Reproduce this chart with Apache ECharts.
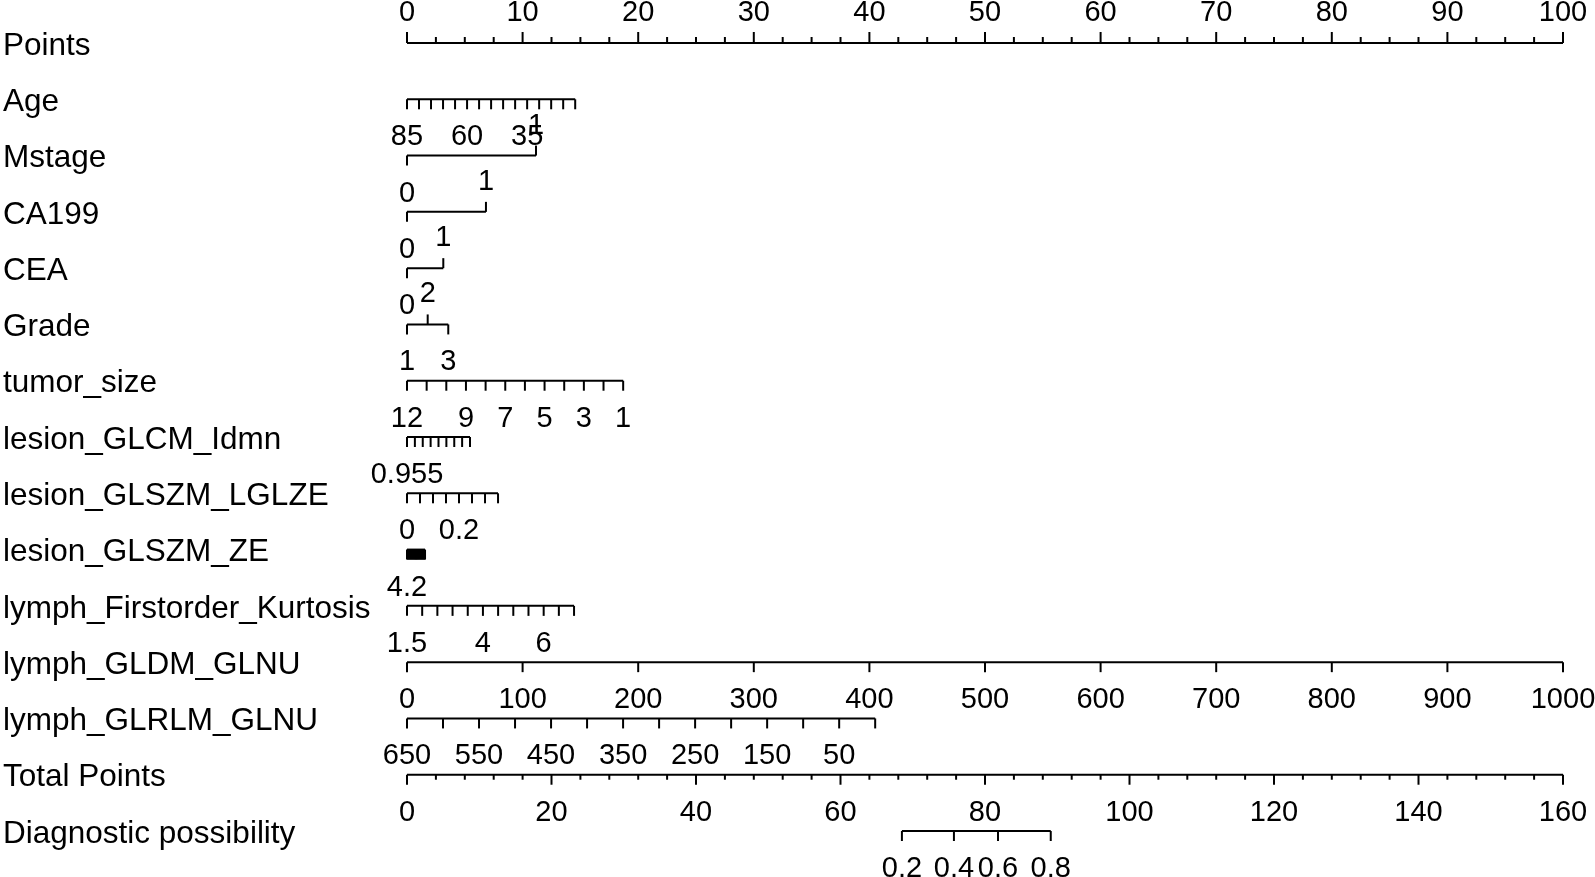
<!DOCTYPE html>
<html>
<head>
<meta charset="utf-8">
<script src="https://cdn.jsdelivr.net/npm/echarts@6/dist/echarts.min.js"></script>
<style>
  html, body { margin: 0; padding: 0; background: #fff; }
  #nomogram { width: 1595px; height: 877px; }
</style>
</head>
<body>
<div id="nomogram"></div>
<script>
  // rows of the nomogram, top to bottom
  const rowNames = ['Points', 'Age', 'Mstage', 'CA199', 'CEA', 'Grade', 'tumor_size',
    'lesion_GLCM_Idmn', 'lesion_GLSZM_LGLZE', 'lesion_GLSZM_ZE', 'lymph_Firstorder_Kurtosis',
    'lymph_GLDM_GLNU', 'lymph_GLRLM_GLNU', 'Total Points', 'Diagnostic possibility'];

  // Points scale
  const pointsMajor = [0, 10, 20, 30, 40, 50, 60, 70, 80, 90, 100];
  const pointsMinor = [2.5, 5, 7.5, 12.5, 15, 17.5, 22.5, 25, 27.5, 32.5, 35, 37.5, 42.5, 45, 47.5,
    52.5, 55, 57.5, 62.5, 65, 67.5, 72.5, 75, 77.5, 82.5, 85, 87.5, 92.5, 95, 97.5];

  // categorical predictors: levels and points
  const mstageLevels = ['0', '1'];
  const mstagePoints = [0, 11.16];
  const ca199Levels = ['0', '1'];
  const ca199Points = [0, 6.83];
  const ceaLevels = ['0', '1'];
  const ceaPoints = [0, 3.14];
  const gradeLevels = ['1', '2', '3'];
  const gradePoints = [0, 1.79, 3.57];
  const gradeSide = [1, -1, 1];

  // continuous predictors: ticks, labelled ticks, [value, points] anchors
  const ageTicks = [85, 80, 75, 70, 65, 60, 55, 50, 45, 40, 35, 30, 25, 20, 15];
  const ageLabels = [85, 60, 35];
  const ageAnchors = [[85, 0], [15, 14.55]];

  const tumorTicks = [12, 11, 10, 9, 8, 7, 6, 5, 4, 3, 2, 1];
  const tumorLabels = [12, 9, 7, 5, 3, 1];
  const tumorAnchors = [[12, 0], [1, 18.7]];

  const idmnTicks = [0.955, 0.96, 0.965, 0.97, 0.975, 0.98, 0.985, 0.99, 0.995];
  const idmnLabels = [0.955];
  const idmnAnchors = [[0.955, 0], [0.995, 5.45]];

  const lglzeTicks = [0, 0.05, 0.1, 0.15, 0.2, 0.25, 0.3, 0.35];
  const lglzeLabels = [0, 0.2];
  const lglzeAnchors = [[0, 0], [0.2, 4.5]];

  const zeTicks = [4.2, 4.3, 4.4, 4.5, 4.6, 4.7, 4.8, 4.9, 5.0, 5.1, 5.2, 5.3, 5.4, 5.5, 5.6, 5.7, 5.8, 5.9, 6.0, 6.1, 6.2];
  const zeLabels = [4.2];
  const zeAnchors = [[4.2, 0], [6.2, 1.56]];

  const kurtTicks = [1.5, 2, 2.5, 3, 3.5, 4, 4.5, 5, 5.5, 6, 6.5, 7];
  const kurtLabels = [1.5, 4, 6];
  const kurtAnchors = [[1.5, 0], [7, 14.45]];

  const gldmTicks = [0, 100, 200, 300, 400, 500, 600, 700, 800, 900, 1000];
  const gldmLabels = [0, 100, 200, 300, 400, 500, 600, 700, 800, 900, 1000];
  const gldmAnchors = [[0, 0], [1000, 100]];

  const glrlmTicks = [650, 600, 550, 500, 450, 400, 350, 300, 250, 200, 150, 100, 50, 0];
  const glrlmLabels = [650, 550, 450, 350, 250, 150, 50];
  const glrlmAnchors = [[650, 0], [0, 40.5]];

  // total points and risk
  const totalMajor = [0, 20, 40, 60, 80, 100, 120, 140, 160];
  const totalMinor = [4, 8, 12, 16, 24, 28, 32, 36, 44, 48, 52, 56, 64, 68, 72, 76, 84, 88, 92, 96,
    104, 108, 112, 116, 124, 128, 132, 136, 144, 148, 152, 156];
  const totalMax = 160;
  const riskLabels = ['0.2', '0.4', '0.6', '0.8'];
  const riskTotal = [68.5, 75.7, 81.8, 89.1];

  const FONT = 'Liberation Sans, Arial, sans-serif';
  const TICK_FONT = 29;
  const LABEL_FONT = 31.5;

  function lin(anchors) {
    const a = anchors[0], b = anchors[1];
    return function (v) { return a[1] + (v - a[0]) * (b[1] - a[1]) / (b[0] - a[0]); };
  }

  const lineData = [];
  const tickData = [];
  const tickText = [];

  function addTick(pts, row, dir, len, label) {
    tickData.push([pts, row, dir, len]);
    tickText.push(label === undefined ? '' : String(label));
  }

  function addLine(p0, p1, row) {
    lineData.push([p0, p1, row]);
  }

  // Points (ticks up, labels above)
  addLine(0, 100, 0);
  pointsMajor.forEach(function (v) { addTick(v, 0, -1, 11, v); });
  pointsMinor.forEach(function (v) { addTick(v, 0, -1, 6); });

  function categorical(row, levels, points, sides) {
    addLine(Math.min.apply(null, points), Math.max.apply(null, points), row);
    levels.forEach(function (lev, i) {
      const dir = sides ? sides[i] : (i === 0 ? 1 : -1);
      addTick(points[i], row, dir, 10, lev);
    });
  }

  function continuous(row, ticks, labels, anchors) {
    const f = lin(anchors);
    addLine(f(ticks[0]), f(ticks[ticks.length - 1]), row);
    ticks.forEach(function (v) {
      addTick(f(v), row, 1, 10, labels.indexOf(v) >= 0 ? v : undefined);
    });
  }

  continuous(1, ageTicks, ageLabels, ageAnchors);
  categorical(2, mstageLevels, mstagePoints);
  categorical(3, ca199Levels, ca199Points);
  categorical(4, ceaLevels, ceaPoints);
  categorical(5, gradeLevels, gradePoints, gradeSide);
  continuous(6, tumorTicks, tumorLabels, tumorAnchors);
  continuous(7, idmnTicks, idmnLabels, idmnAnchors);
  continuous(8, lglzeTicks, lglzeLabels, lglzeAnchors);
  continuous(9, zeTicks, zeLabels, zeAnchors);
  continuous(10, kurtTicks, kurtLabels, kurtAnchors);
  continuous(11, gldmTicks, gldmLabels, gldmAnchors);
  continuous(12, glrlmTicks, glrlmLabels, glrlmAnchors);

  // Total Points (ticks down, labels below)
  const toPts = function (t) { return t * 100 / totalMax; };
  addLine(0, 100, 13);
  totalMajor.forEach(function (v) { addTick(toPts(v), 13, 1, 10, v); });
  totalMinor.forEach(function (v) { addTick(toPts(v), 13, 1, 5); });

  // Diagnostic possibility
  addLine(toPts(riskTotal[0]), toPts(riskTotal[riskTotal.length - 1]), 14);
  riskLabels.forEach(function (lab, i) { addTick(toPts(riskTotal[i]), 14, 1, 10, lab); });

  const chart = echarts.init(document.getElementById('nomogram'));

  const option = {
    backgroundColor: '#fff',
    animation: false,
    grid: { left: 407, right: 32, top: 14.86, bottom: 17.84 },
    xAxis: { type: 'value', min: 0, max: 100, show: false },
    yAxis: {
      type: 'category',
      data: rowNames,
      inverse: true,
      show: false
    },
    series: [
      {
        // row names on the left
        type: 'custom',
        silent: true,
        data: rowNames.map(function (name, i) { return [0, i]; }),
        renderItem: function (params, api) {
          const p = api.coord([api.value(0), api.value(1)]);
          return {
            type: 'text',
            x: 3,
            y: p[1] + 3,
            style: {
              text: rowNames[params.dataIndex],
              align: 'left',
              verticalAlign: 'middle',
              fill: '#000',
              fontSize: LABEL_FONT,
              fontFamily: FONT
            }
          };
        }
      },
      {
        type: 'custom',
        silent: true,
        data: lineData,
        renderItem: function (params, api) {
          const a = api.coord([api.value(0), api.value(2)]);
          const b = api.coord([api.value(1), api.value(2)]);
          return {
            type: 'line',
            shape: { x1: a[0], y1: a[1], x2: b[0], y2: b[1] },
            style: { stroke: '#000', lineWidth: 2 }
          };
        }
      },
      {
        type: 'custom',
        silent: true,
        data: tickData,
        renderItem: function (params, api) {
          const p = api.coord([api.value(0), api.value(1)]);
          const dir = api.value(2);
          const len = api.value(3);
          const children = [{
            type: 'line',
            shape: { x1: p[0], y1: p[1], x2: p[0], y2: p[1] + dir * len },
            style: { stroke: '#000', lineWidth: 2 }
          }];
          const lab = tickText[params.dataIndex];
          if (lab) {
            children.push({
              type: 'text',
              x: p[0],
              y: p[1] + (dir < 0 ? -30 : 38),
              style: {
                text: lab,
                align: 'center',
                verticalAlign: 'middle',
                fill: '#000',
                fontSize: TICK_FONT,
                fontFamily: FONT
              }
            });
          }
          return { type: 'group', children: children };
        }
      }
    ]
  };

  chart.setOption(option);
  window.addEventListener('resize', function () {
    chart.resize();
  });
</script>
</body>
</html>
